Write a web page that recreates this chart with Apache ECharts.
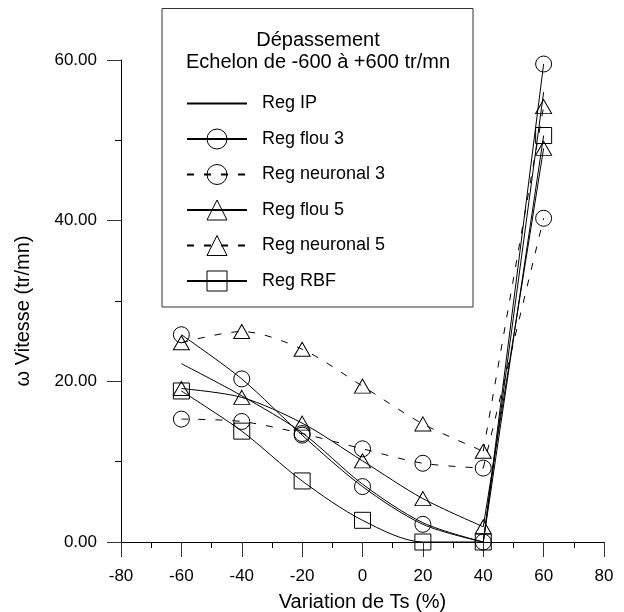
<!DOCTYPE html>
<html><head><meta charset="utf-8">
<script src="https://cdn.jsdelivr.net/npm/echarts@6/dist/echarts.min.js"></script>
<style>html,body{margin:0;padding:0;background:#fff}#c{width:624px;height:612px}</style>
</head><body><div id="c"></div>
<script>
// ---- data ----
const xValues = [-60, -40, -20, 0, 20, 40, 60];
const regIP = [22.2, 18.2, 13.6, 7.2, 2.4, 0, 56.0];
const regFlou3 = [25.8, 20.3, 13.3, 6.9, 2.2, 0, 59.5];
const regNeuronal3 = [15.3, 15.0, 13.5, 11.6, 9.8, 9.2, 40.3];
const regFlou5 = [19.1, 18.0, 14.8, 10.1, 5.4, 1.9, 49.0];
const regNeuronal5 = [24.8, 26.2, 24.0, 19.4, 14.7, 11.3, 54.2];
const regRBF = [18.8, 13.8, 7.6, 2.7, 0, 0, 50.6];
const seriesNames = ['Reg IP', 'Reg flou 3', 'Reg neuronal 3', 'Reg flou 5', 'Reg neuronal 5', 'Reg RBF'];
const titleLines = ['Dépassement', 'Echelon de -600 à +600 tr/mn'];
const xAxisTitle = 'Variation de Ts (%)';
const yAxisTitle = 'ω Vitesse (tr/mn)';
const xRange = [-80, 80, 20];
const yRange = [0, 60, 20];

// ---- chart ----
const FONT = 'Liberation Sans, Arial, sans-serif';
const chart = echarts.init(document.getElementById('c'), null, { renderer: 'canvas' });
const pairs = v => xValues.map((x, i) => [x, v[i]]);
function mk(name, vals, symbol, size, dashed) {
  const pts = pairs(vals);
  const n = pts.length;
  const base = {
    name, type: 'line',
    symbol: symbol, symbolSize: size, showSymbol: symbol !== 'none',
    lineStyle: { color: '#000', width: 1, type: dashed ? [7, 10] : 'solid' },
    itemStyle: { color: 'rgba(0,0,0,0)', borderColor: '#000', borderWidth: 1 },
    emphasis: { disabled: true },
    animation: false, z: 3
  };
  // smooth part up to the minimum at 40, then a straight rise to 60
  const a = Object.assign({}, base, { data: pts.slice(0, n - 1), smooth: 0.3 });
  const b = Object.assign({}, base, {
    data: [{ value: pts[n - 2], symbol: 'none' }, { value: pts[n - 1] }],
    smooth: false
  });
  return [a, b];
}
const series = [].concat(
  mk(seriesNames[0], regIP, 'none', 0, false),
  mk(seriesNames[1], regFlou3, 'circle', 16, false),
  mk(seriesNames[2], regNeuronal3, 'circle', 16, true),
  mk(seriesNames[3], regFlou5, 'triangle', [16, 14], false),
  mk(seriesNames[4], regNeuronal5, 'triangle', [16, 14], true),
  mk(seriesNames[5], regRBF, 'rect', 16, false)
);
const axisCommon = {
  axisLine: { onZero: false, lineStyle: { color: '#000', width: 1 } },
  splitLine: { show: false },
  minorTick: { show: true, splitNumber: 2, length: 6, lineStyle: { color: '#000' } },
  nameTextStyle: { fontFamily: FONT, fontSize: 20, color: '#000' }
};
const option = {
  backgroundColor: '#fff',
  animation: false,
  grid: { left: 121, right: 20, top: 60, bottom: 70, containLabel: false, outerBoundsMode: 'none' },
  xAxis: Object.assign({}, axisCommon, {
    type: 'value', min: xRange[0], max: xRange[1], interval: xRange[2],
    axisTick: { show: true, length: 15, lineStyle: { color: '#333' } },
    axisLabel: { margin: 26, fontFamily: FONT, fontSize: 17, color: '#000' },
    name: xAxisTitle, nameLocation: 'middle', nameGap: 50
  }),
  yAxis: Object.assign({}, axisCommon, {
    type: 'value', min: yRange[0], max: yRange[1], interval: yRange[2],
    axisTick: { show: true, length: 14, lineStyle: { color: '#333' } },
    axisLabel: { margin: 24, fontFamily: FONT, fontSize: 17, color: '#000', formatter: v => v.toFixed(2) },
    name: yAxisTitle, nameLocation: 'middle', nameGap: 88, nameRotate: 90,
    nameTextStyle: { fontFamily: FONT, fontSize: 20, color: '#000', padding: [0, 20, 0, 0] }
  }),
  legend: {
    orient: 'vertical', left: 181, top: 88, itemWidth: 60, itemHeight: 25, itemGap: 14.5,
    selectedMode: false,
    itemStyle: { borderWidth: 1 },
    textStyle: { fontFamily: FONT, fontSize: 18, color: '#000', padding: [0, 0, 0, 10] },
    data: seriesNames.map((n, i) => i === 0
      ? { name: n, itemStyle: { borderColor: 'rgba(0,0,0,0)', color: 'rgba(0,0,0,0)' } }
      : { name: n })
  },
  graphic: [
    { type: 'rect', z: 1, shape: { x: 162, y: 8.5, width: 311, height: 298.5 },
      style: { fill: 'rgba(0,0,0,0)', stroke: '#333', lineWidth: 1 } },
    { type: 'text', z: 5, x: 318, y: 40, style: { text: titleLines[0], fill: '#000', font: '20px ' + FONT, textAlign: 'center', textVerticalAlign: 'middle' } },
    { type: 'text', z: 5, x: 318, y: 62, style: { text: titleLines[1], fill: '#000', font: '20px ' + FONT, textAlign: 'center', textVerticalAlign: 'middle' } }
  ],
  series
};
chart.setOption(option);
</script>
</body></html>
